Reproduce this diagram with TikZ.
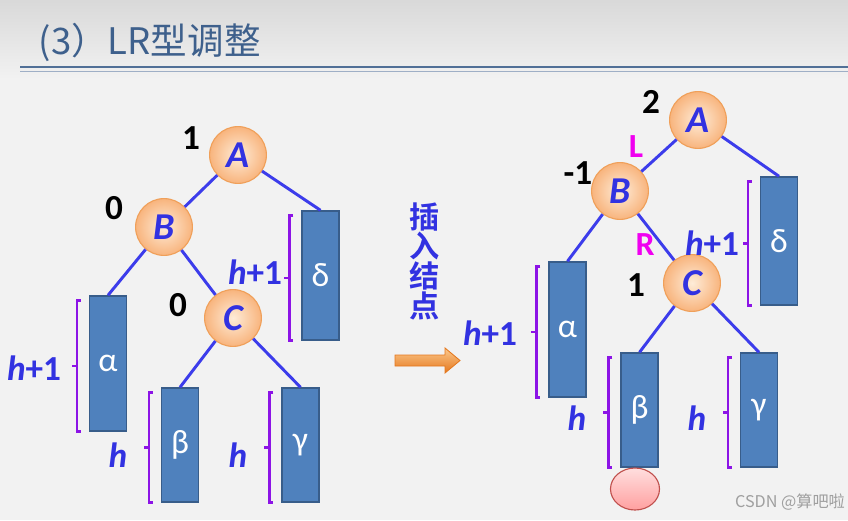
\documentclass[tikz,border=0pt]{standalone}
\usepackage{fontspec}
\setmainfont{Carlito}
\newfontfamily\cjk{Noto Sans CJK SC}[BoldFont={Noto Sans CJK SC Bold}]
\usetikzlibrary{shapes.geometric}
\definecolor{titleblue}{RGB}{62,96,140}
\definecolor{linkblue}{RGB}{60,60,235}
\definecolor{labelblue}{RGB}{50,50,225}
\definecolor{boxfill}{RGB}{79,129,189}
\definecolor{boxline}{RGB}{56,93,138}
\definecolor{bracepurple}{RGB}{140,20,230}
\definecolor{ballin}{RGB}{254,236,216}
\definecolor{ballout}{RGB}{248,180,125}
\definecolor{ballline}{RGB}{240,160,90}
\definecolor{dirmagenta}{RGB}{240,0,240}
\definecolor{arrowtop}{RGB}{252,200,140}
\definecolor{arrowbot}{RGB}{228,120,30}
\definecolor{pinktop}{RGB}{255,222,222}
\definecolor{pinkbot}{RGB}{255,160,160}
\definecolor{pinkline}{RGB}{192,80,77}
\begin{document}
\begin{tikzpicture}
		[x=0.025cm, y=-0.025cm,
		 every node/.style={inner sep=1pt},
		 ball/.style={circle, draw=ballline, line width=0.8pt, inner color=ballin, outer color=ballout,
		   minimum size=1.42cm, text=labelblue, font=\fontsize{27}{27}\selectfont\bfseries\itshape},
		 tree/.style={rectangle, draw=boxline, line width=1pt, fill=boxfill, minimum width=0.925cm,
		   text=white, font=\fontsize{24}{24}\selectfont},
		 bf/.style={font=\fontsize{25}{25}\selectfont\bfseries},
		 hl/.style={font=\fontsize{25}{25}\selectfont\bfseries, text=labelblue},
		 dir/.style={font=\fontsize{24}{24}\selectfont\bfseries, text=dirmagenta},
		 link/.style={draw=linkblue, line width=2.1pt},
		 brace/.style={draw=bracepurple, line width=1.8pt}]
		\useasboundingbox (0,0) rectangle (848,520);
		\fill[gray!10] (0,0) rectangle (848,520);
		\shade[top color=gray!30, bottom color=gray!10] (0,0) rectangle (848,80);
		
		\node[anchor=west, text=titleblue, font=\cjk\fontsize{26}{26}\selectfont] (title) at (37,42) {(3）LR型调整};
		\draw[titleblue!90, line width=1.6pt] (20,67) -- (848,67);
		\draw[titleblue!50, line width=0.8pt] (20,71.5) -- (848,71.5);
		
		\node[ball] (la) at (238,155) {A};
		\node[ball] (lb) at (164,227) {B};
		\node[ball] (lc) at (233,318) {C};
		\node[tree, minimum height=3.375cm] (lal) at (108,363.5) {α};
		\node[tree, minimum height=3.225cm] (ldl) at (320.5,275.5) {δ};
		\node[tree, minimum height=2.85cm] (lbe) at (180,445) {β};
		\node[tree, minimum height=2.85cm] (lga) at (300.5,445) {γ};
		
		\path[link] (la) edge (lb) (la) edge (ldl.north) (lb) edge (lal.north) (lb) edge (lc)
		  (lc) edge (lbe.north) (lc) edge (lga.north);
		
		\node[bf] (lfa) at (191,138) {1};
		\node[bf] (lfb) at (114,208) {0};
		\node[bf] (lfc) at (178,305) {0};
		\node[hl] (lhal) at (34,368) {\textit{h}+1};
		\node[hl] (lhdl) at (255,272) {\textit{h}+1};
		\node[hl] (lhbe) at (118,455) {\textit{h}};
		\node[hl] (lhga) at (238,455) {\textit{h}};
		
		\node[font=\cjk\bfseries\fontsize{21.5}{20}\selectfont, text=labelblue, align=center] (ins) at (425,261) {插\\入\\结\\点};
		\shade[top color=arrowtop, bottom color=arrowbot, draw=arrowbot, line width=0.6pt]
		  (395,355) -- (445,355) -- (445,348) -- (460,360.5) -- (445,373) -- (445,366) -- (395,366) -- cycle;
		
		\node[ball] (ra) at (698,120) {A};
		\node[ball] (rb) at (620,191) {B};
		\node[ball] (rc) at (692,283) {C};
		\node[tree, minimum height=3.375cm] (ral) at (567.5,329.5) {α};
		\node[tree, minimum height=3.2cm] (rdl) at (779,241) {δ};
		\node[tree, minimum height=2.85cm] (rbe) at (639.5,410) {β};
		\node[tree, minimum height=2.85cm] (rga) at (759,410) {γ};
		\node[ellipse, draw=pinkline, line width=0.8pt, top color=pinktop, bottom color=pinkbot,
		  minimum width=1.225cm, minimum height=1.05cm] (new) at (635,489) {};
		
		\path[link] (ra) edge (rb) (ra) edge (rdl.north) (rb) edge (ral.north) (rb) edge (rc)
		  (rc) edge (rbe.north) (rc) edge (rga.north);
		
		\node[bf] (rfa) at (651,102) {2};
		\node[bf] (rfb) at (578,173) {-1};
		\node[bf] (rfc) at (636,285) {1};
		\node[dir] (rl) at (636,147) {L};
		\node[dir] (rr) at (645,245) {R};
		\node[hl] (rhal) at (490,333) {\textit{h}+1};
		\node[hl] (rhdl) at (712,243) {\textit{h}+1};
		\node[hl] (rhbe) at (577,418) {\textit{h}};
		\node[hl] (rhga) at (697,418) {\textit{h}};
		
		\foreach \t in {lal,ldl,lbe,lga,ral,rdl,rbe,rga}
		  \draw[brace] ([shift={(-8,5)}]\t.north west) -- ++(-4,0) |- ([shift={(-8,0)}]\t.south west)
		    ([shift={(-12,2.5)}]\t.west) -- ++(-5,0);
		
		\node[font=\cjk\fontsize{11.5}{11.5}\selectfont, text=gray!75] (mark) at (790,502) {CSDN @算吧啦};
		\end{tikzpicture}
\end{document}
